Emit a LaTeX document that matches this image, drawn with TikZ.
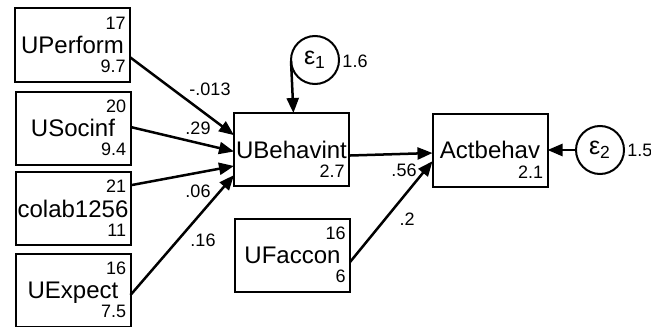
\documentclass[tikz,border=0pt]{standalone}
\usepackage{fontspec}
\setmainfont{Liberation Sans}
\usetikzlibrary{arrows.meta}

\begin{document}
\begin{tikzpicture}[%
  >={Triangle[length=7.5pt,width=6pt]},
  x=0.5pt, y=-0.5pt,
  var/.style={draw, line width=1pt, minimum width=57.5pt, minimum height=36.5pt,
    inner sep=0pt, outer sep=0pt, font=\fontsize{12}{14}\selectfont,
    text height=8.6pt, text depth=0pt},
  err/.style={draw, circle, line width=1pt, minimum size=24pt, inner sep=0pt,
    outer sep=0pt, font=\fontsize{12.5}{14}\selectfont},
  num/.style={font=\fontsize{9}{10}\selectfont, inner xsep=2pt, inner ysep=4pt},
  coef/.style={font=\fontsize{9}{10}\selectfont, inner sep=0pt},
  link/.style={->, line width=1.25pt}
]

  \useasboundingbox (0,0) rectangle (651,326);

  % observed variables
  \node[var, label={[num,anchor=north east]north east:17},
    label={[num,anchor=south east]south east:9.7}] (UPerform) at (72.5,45) {UPerform};
  \node[var, label={[num,anchor=north east]north east:20},
    label={[num,anchor=south east]south east:9.4}] (USocinf) at (73,128) {USocinf};
  \node[var, label={[num,anchor=north east]north east:21},
    label={[num,anchor=south east]south east:11}] (colab) at (73,208.5) {colab1256};
  \node[var, label={[num,anchor=north east]north east:16},
    label={[num,anchor=south east]south east:7.5}] (UExpect) at (73,290) {UExpect};
  \node[var, label={[num,anchor=south east]south east:2.7}] (UBehavint) at (291.5,149.5) {UBehavint};
  \node[var, label={[num,anchor=north east]north east:16},
    label={[num,anchor=south east]south east:6}] (UFaccon) at (292.5,255) {UFaccon};
  \node[var, label={[num,anchor=south east]south east:2.1}] (Actbehav) at (490,150) {Actbehav};

  % errors
  \node[err] (e1) at (315,60) {ε\textsubscript{1}};
  \node[err] (e2) at (600,150) {ε\textsubscript{2}};

  % paths
  \draw[link] (UPerform.348) -- (UBehavint.166.8);
  \draw[link] (USocinf.1) -- (UBehavint.182.5);
  \draw[link] (colab.22) -- (UBehavint.196);
  \draw[link] (UExpect.355) -- (UBehavint.204.7);
  \draw[link] (UBehavint.354.5) -- (Actbehav.183);
  \draw[link] (UFaccon.353) -- (Actbehav.191.7);
  \draw[link] (e1.182) -- (UBehavint.87);
  \draw[link] (e2.west) -- (Actbehav.east);

  % coefficients
  \node[coef] (cPerform) at (210,89) {-.013};
  \node[coef] (cSocinf) at (198,128) {.29};
  \node[coef] (ccolab) at (198,191) {.06};
  \node[coef] (cExpect) at (203,240) {.16};
  \node[coef] (cBehavint) at (404,170) {.56};
  \node[coef] (cFaccon) at (407,219) {.2};
  \node[coef] (ve1) at (355,61) {1.6};
  \node[coef, anchor=west] (ve2) at (627,150) {1.5};

\end{tikzpicture}
\end{document}
